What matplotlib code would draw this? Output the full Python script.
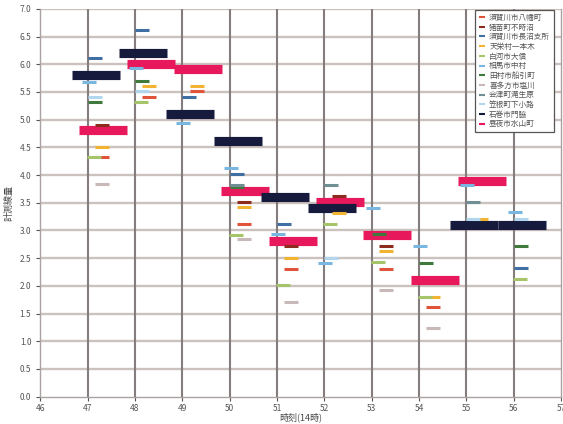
import numpy as np
import matplotlib
matplotlib.use("Agg")
import matplotlib.pyplot as plt
from matplotlib.lines import Line2D

plt.rcParams['font.family'] = ['Noto Sans CJK JP', 'DejaVu Sans']

nan = np.nan
years = [47, 48, 49, 50, 51, 52, 53, 54, 55, 56]

names = ["須賀川市八幡町", "猪苗町不時沼", "須賀川市長沼支所", "天栄村一本木",
         "白河市大信", "相馬市中村", "田村市船引町", "喜多方市塩川",
         "会津町滝生原", "笠根町下小路", "石巻市門脇", "昼夜市水山町"]

s_red      = [4.32, 5.41, 5.52, 3.12, 2.31, nan, 2.31, 1.61, nan, nan]
s_darkred  = [4.91, nan, nan, 3.52, 2.72, 3.62, 2.72, nan, nan, nan]
s_steel    = [6.12, 6.61, 5.41, 4.02, 3.12, nan, nan, nan, nan, 2.33]
s_orange   = [4.51, 5.61, 5.61, 3.42, 2.51, 3.31, 2.62, 1.80, 3.20, nan]
s_ltgreen  = [4.32, 5.32, nan, 2.92, 2.01, 3.12, 2.43, 1.80, nan, 2.12]
s_ltblue   = [5.68, 5.93, 4.93, 4.12, 2.94, 2.42, 3.41, 2.72, 3.82, 3.33]
s_dkgreen  = [5.31, 5.70, nan, 3.78, nan, nan, 2.93, 2.42, nan, 2.72]
s_gray     = [3.83, nan, nan, 2.85, 1.71, nan, 1.92, 1.23, nan, nan]
s_teal     = [nan, nan, nan, 3.82, nan, 3.82, nan, nan, 3.52, nan]
s_paleblue = [5.41, 5.52, nan, nan, nan, 2.50, nan, nan, 3.20, 3.20]
s_navy     = [5.81, 6.21, 5.10, 4.61, 3.61, 3.40, nan, nan, 3.10, 3.10]
s_pink     = [4.81, 6.00, 5.91, 3.71, 2.81, 3.51, 2.92, 2.10, 3.90, nan]

series = [s_red, s_darkred, s_steel, s_orange, s_ltgreen, s_ltblue,
          s_dkgreen, s_gray, s_teal, s_paleblue, s_navy, s_pink]
colors = ["#e0553a", "#8e2b1f", "#3f6fa3", "#f2b232", "#a6c46a", "#79b6e0",
          "#3f7a3c", "#c9b8b8", "#6f8f95", "#b3d6ef", "#161b3d", "#e8185c"]
offsets = [0.3, 0.3, 0.15, 0.3, 0.13, 0.02, 0.15, 0.3, 0.15, 0.15, 0.17, 0.33]
big = [False] * 10 + [True, True]

fig = plt.figure(figsize=(5.63, 4.24), dpi=100)
ax = fig.add_axes([0.0716, 0.0646, 0.9248, 0.9146])

ax.set_xlim(46, 57)
ax.set_ylim(0, 7)
ax.set_xticks(range(46, 58))
ax.set_yticks(np.arange(0, 7.01, 0.5))
ax.set_yticklabels([f"{v:.1f}" for v in np.arange(0, 7.01, 0.5)])
ax.tick_params(labelsize=6, colors="#555555", length=3, width=0.8)
ax.tick_params(axis="x", pad=2)
for y in np.arange(0.5, 7.01, 0.5):
    ax.axhline(y, color="#cbc1bd", lw=1.7, zorder=0)
for x in range(47, 57):
    ax.axvline(x, color="#857d7d", lw=1.5, zorder=0.5)
for sp in ["top"]:
    ax.spines[sp].set_visible(False)
for sp in ["left", "bottom", "right"]:
    ax.spines[sp].set_color("#aaa2a0")
    ax.spines[sp].set_linewidth(1.0)

order = [11, 10] + list(range(10))
for i in order:
    xs = np.array(years) + offsets[i]
    ys = np.array(series[i])
    if big[i]:
        ax.plot(xs, ys, ls="none", marker="_", ms=34, mew=6.6,
                color=colors[i], zorder=3 if i == 11 else 4)
    else:
        ax.plot(xs, ys, ls="none", marker="_", ms=9.5, mew=2.2,
                color=colors[i], zorder=5)

ax.set_xlabel("時刻(14時)", fontsize=6.5, color="#444444", labelpad=0)
ax.set_ylabel("計測線量", fontsize=6.5, color="#444444", labelpad=4)

handles = [Line2D([0], [0], ls="none", marker="_", ms=5, mew=1.5, color=c)
           for c in colors]
leg = ax.legend(handles, names, loc="upper right",
                bbox_to_anchor=(0.9866, 0.997), borderaxespad=0,
                fontsize=5.5, labelspacing=0.22, handlelength=0.8,
                handletextpad=0.5, frameon=True, fancybox=False,
                borderpad=0.5)
leg.get_frame().set_edgecolor("#555555")
leg.get_frame().set_linewidth(0.9)
leg.get_frame().set_facecolor("white")
leg.get_frame().set_alpha(1)
for t in leg.get_texts():
    t.set_color("#555555")
leg.set_zorder(10)

fig.savefig("out.png", dpi=100)
